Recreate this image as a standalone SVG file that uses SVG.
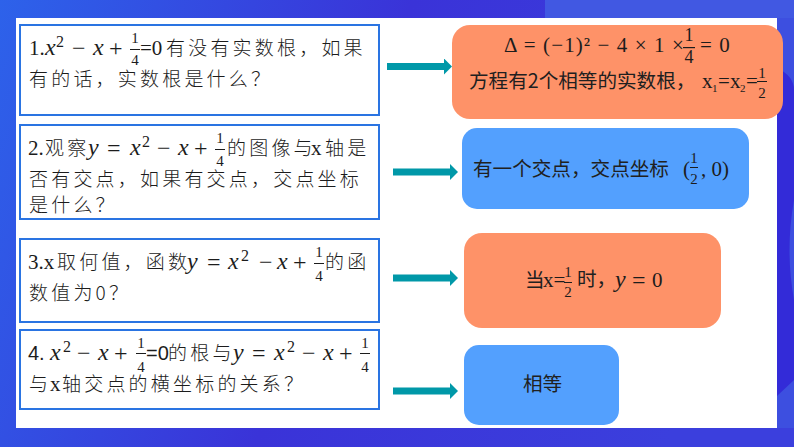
<svg xmlns="http://www.w3.org/2000/svg" width="794" height="447" viewBox="0 0 794 447">
<style>
text{fill:#1c1c1c;font-family:"Noto Sans CJK SC","Liberation Sans",sans-serif}
.c{font-size:19px;letter-spacing:3.2px;font-weight:300}
.s{font-size:19.600px;fill:#202020;font-weight:400}
.m,.i,.f,.p,.u,.n,.g,.v{font-family:"Liberation Serif","Noto Sans CJK SC",serif}
.m{font-size:21px}
.n{font-size:21px}
.v{font-size:24px}
.i{font-size:24px;font-style:italic}
.f{font-size:15px;text-anchor:middle}
.g{font-size:18px;text-anchor:middle}
.p{font-size:16px}
.u{font-size:11px}
.d{font-family:"Liberation Sans",sans-serif;font-size:20px;fill:#1c1c1c}
.w{letter-spacing:1.100px}
.q{fill:#fff;stroke:#2a74e2;stroke-width:2}
.o{fill:#fe9268}
.b{fill:#53a0fe}
.r{fill:#1c1c1c}
</style>
<defs>
<linearGradient id="bg" x1="0" y1="0" x2="1" y2="0.2"><stop offset="0" stop-color="#2d62ea"/><stop offset="0.5" stop-color="#3a33d8"/><stop offset="1" stop-color="#3b3fdd"/></linearGradient>
<marker id="ah" markerUnits="userSpaceOnUse" markerWidth="8" markerHeight="16" refX="0" refY="8" orient="auto"><path d="M0 0L8 8L0 16Z" fill="#0098a8"/></marker>
</defs>
<rect width="794" height="447" fill="url(#bg)"/>
<path d="M545 0H794V18H545Z" fill="#4158e2"/>
<rect x="777" y="18" width="17" height="410" fill="#3d4fe0"/>
<path d="M777 68Q794 76 794 90V200Q785 250 794 300V380L777 396Z" fill="#332bd8"/>
<rect x="16" y="18" width="761" height="410" fill="#fff"/>
<g id="connectors" stroke="#0098a8" stroke-width="7" fill="none" marker-end="url(#ah)">
<path d="M387 66.500H444"/><path d="M393 172H450"/><path d="M393 278H450"/><path d="M393 391H450"/>
</g>
<g id="q1"><rect class="q" x="20" y="25" width="359" height="90"/>
<text class="m" x="29" y="55">1.</text><text class="i" x="45" y="55">x</text><text class="p" x="56" y="47">2</text><text class="v" x="72" y="56">−</text><text class="i" x="93" y="55">x</text><text class="v" x="109" y="56">+</text>
<text class="f" x="135" y="43">1</text><rect class="r" x="130" y="49" width="10" height="1"/><text class="f" x="135" y="65">4</text><text class="m" x="140" y="55">=0</text>
<text class="c" x="166" y="55">有没有实数根，如果</text>
<text class="c" x="29" y="86">有的话，实数根是什么？</text></g>
<g id="q2"><rect class="q" x="20" y="125" width="359" height="94"/>
<text class="m" x="28" y="155">2.</text><text class="c" x="45" y="155">观察</text><text class="i" x="88" y="155">y</text><text class="v" x="107" y="156">=</text><text class="i" x="130" y="155">x</text><text class="p" x="142" y="147">2</text><text class="v" x="157" y="156">−</text><text class="i" x="178" y="155">x</text><text class="v" x="194" y="156">+</text>
<text class="f" x="220" y="143">1</text><rect class="r" x="215" y="149" width="10" height="1"/><text class="f" x="220" y="166">4</text>
<text class="c" x="227" y="155">的图像与</text><text class="m" x="311" y="155">x</text><text class="c" x="325" y="155">轴是</text>
<text class="c" x="29" y="186">否有交点，如果有交点，交点坐标</text>
<text class="c" x="29" y="212">是什么？</text></g>
<g id="q3"><rect class="q" x="20" y="239" width="359" height="83"/>
<text class="m" x="28" y="269">3.x</text><text class="c" x="57" y="269">取何值，函数</text><text class="i" x="187" y="269">y</text><text class="v" x="207" y="270">=</text><text class="i" x="228" y="269">x</text><text class="p" x="241" y="261">2</text><text class="v" x="259" y="270">−</text><text class="i" x="277" y="269">x</text><text class="v" x="293" y="270">+</text>
<text class="f" x="319" y="257">1</text><rect class="r" x="314" y="263" width="10" height="1"/><text class="f" x="319" y="281">4</text>
<text class="c" x="325" y="269">的函</text>
<text class="c" x="29" y="300">数值为0？</text></g>
<g id="q4"><rect class="q" x="20" y="330" width="359" height="79"/>
<text class="d" x="28" y="360">4.</text><text class="i" x="50" y="360">x</text><text class="p" x="63" y="352">2</text><text class="v" x="77" y="361">−</text><text class="i" x="98" y="360">x</text><text class="v" x="114" y="361">+</text>
<text class="f" x="141" y="348">1</text><rect class="r" x="136" y="353" width="10" height="1"/><text class="f" x="141" y="372">4</text><text class="d" x="146" y="360">=0</text>
<text class="c" x="168" y="360">的根与</text><text class="i" x="233" y="360">y</text><text class="v" x="252" y="361">=</text><text class="i" x="274" y="360">x</text><text class="p" x="287" y="352">2</text><text class="v" x="302" y="361">−</text><text class="i" x="323" y="360">x</text><text class="v" x="339" y="361">+</text>
<text class="f" x="365" y="348">1</text><rect class="r" x="360" y="353" width="10" height="1"/><text class="f" x="365" y="372">4</text>
<text class="c" x="29" y="391">与</text><text class="m" x="50" y="391">x</text><text class="c" x="62" y="391">轴交点的横坐标的关系？</text></g>
<g id="a1"><rect class="o" x="452" y="25" width="331" height="94" rx="18"/>
<text class="m w" x="504" y="52">Δ = (−1)² − 4 × 1 ×</text>
<text class="g" x="689" y="41">1</text><rect class="r" x="683" y="47" width="12" height="1.200"/><text class="g" x="689" y="63">4</text><text class="m w" x="700" y="52">= 0</text>
<text class="s" x="469" y="88">方程有2个相等的实数根，</text><text class="n" x="702" y="88">x</text><text class="u" x="712" y="92">1</text><text class="n" x="718" y="88">=</text><text class="n" x="730" y="88">x</text><text class="u" x="740" y="92">2</text><text class="n" x="746" y="88">=</text>
<text class="f" x="762" y="78">1</text><rect class="r" x="757" y="81" width="10" height="1"/><text class="f" x="762" y="98">2</text></g>
<g id="a2"><rect class="b" x="462" y="128" width="287" height="81" rx="15"/>
<text class="s" x="473" y="176">有一个交点，交点坐标</text><text class="m" x="683" y="176">(</text><text class="f" x="694" y="163">1</text><rect class="r" x="690" y="167" width="8" height="1"/><text class="f" x="694" y="184">2</text><text class="m" x="701" y="176">, 0)</text></g>
<g id="a3"><rect class="o" x="464" y="233" width="257" height="95" rx="18"/>
<text class="s" x="525" y="287">当</text><text class="m" x="543" y="287">x=</text><text class="f" x="568" y="277">1</text><rect class="r" x="564" y="282" width="8" height="1"/><text class="f" x="568" y="297">2</text><text class="s" x="577" y="286">时，</text><text class="i" x="615" y="287">y</text><text class="v" x="632" y="288">=</text><text class="m" x="652" y="287">0</text></g>
<g id="a4"><rect class="b" x="464" y="345" width="155" height="80" rx="15"/>
<text class="s" x="523" y="391">相等</text></g>
</svg>
